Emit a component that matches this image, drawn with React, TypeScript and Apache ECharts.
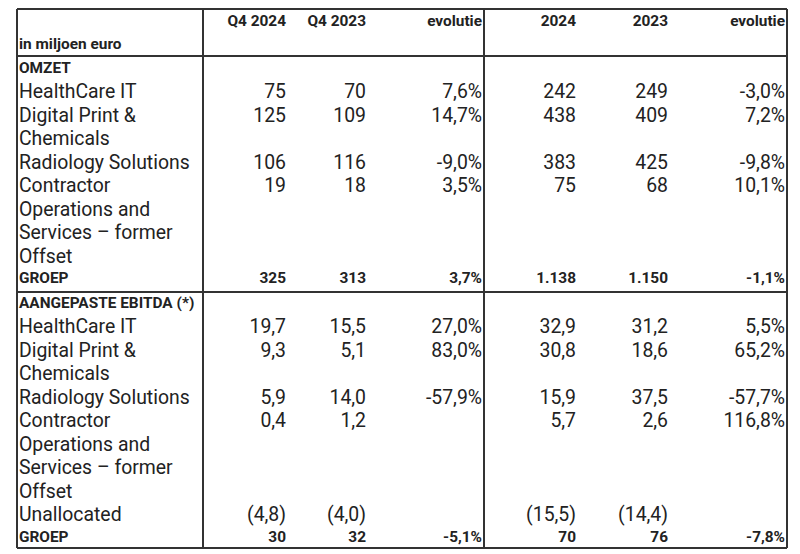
import React, { useEffect, useRef } from "react";
import * as echarts from "echarts";

// ---- data ----
const headers = ["Q4 2024", "Q4 2023", "evolutie", "2024", "2023", "evolutie"];
const unitLabel = "in miljoen euro";

const omzetTitle = "OMZET";
const omzetLabels = [
  ["HealthCare IT"],
  ["Digital Print &", "Chemicals"],
  ["Radiology Solutions"],
  ["Contractor", "Operations and", "Services – former", "Offset"],
];
const omzetQ42024 = ["75", "125", "106", "19"];
const omzetQ42023 = ["70", "109", "116", "18"];
const omzetEvolQ = ["7,6%", "14,7%", "-9,0%", "3,5%"];
const omzet2024 = ["242", "438", "383", "75"];
const omzet2023 = ["249", "409", "425", "68"];
const omzetEvolY = ["-3,0%", "7,2%", "-9,8%", "10,1%"];
const omzetGroep = ["325", "313", "3,7%", "1.138", "1.150", "-1,1%"];

const ebitdaTitle = "AANGEPASTE EBITDA (*)";
const ebitdaLabels = [
  ["HealthCare IT"],
  ["Digital Print &", "Chemicals"],
  ["Radiology Solutions"],
  ["Contractor", "Operations and", "Services – former", "Offset"],
  ["Unallocated"],
];
const ebitdaQ42024 = ["19,7", "9,3", "5,9", "0,4", "(4,8)"];
const ebitdaQ42023 = ["15,5", "5,1", "14,0", "1,2", "(4,0)"];
const ebitdaEvolQ = ["27,0%", "83,0%", "-57,9%", "", ""];
const ebitda2024 = ["32,9", "30,8", "15,9", "5,7", "(15,5)"];
const ebitda2023 = ["31,2", "18,6", "37,5", "2,6", "(14,4)"];
const ebitdaEvolY = ["5,5%", "65,2%", "-57,7%", "116,8%", ""];
const ebitdaGroep = ["30", "32", "-5,1%", "70", "76", "-7,8%"];
const groepLabel = "GROEP";

export default function App() {
  const ref = useRef<HTMLDivElement>(null);
  useEffect(() => {
    if (!ref.current) return;
    const chart = echarts.init(ref.current, null, { renderer: "svg" });

    const L = 17, R = 787, T = 9, B = 548;
    const V1 = 203, V2 = 484;
    const H1 = 56, H2 = 292;
    const colRight = [286, 366, 482, 576, 668, 785];
    const labelX = 19;
    const step = 23.5;
    const font = "Roboto, 'Noto Sans', sans-serif";
    const textColor = "#222";
    const regSize = 19.4;
    const boldSize = 15.4;

    const els: any[] = [];
    const txt = (x: number, y: number, s: string, align: string, bold: boolean) => {
      if (!s) return;
      els.push({
        type: "text",
        x,
        y,
        silent: true,
        style: {
          text: s,
          align,
          verticalAlign: "middle",
          textAlign: align,
          textVerticalAlign: "middle",
          fontFamily: font,
          fontSize: bold ? boldSize : regSize,
          fontWeight: bold ? "bold" : "normal",
          fill: textColor,
        },
      });
    };

    // header
    headers.forEach((h, i) => txt(colRight[i], 21, h, "right", true));
    txt(labelX, 44, unitLabel, "left", true);

    let y = 68;
    const section = (
      title: string,
      labels: string[][],
      cols: string[][],
      groep: string[]
    ) => {
      txt(labelX, y, title, "left", true);
      y += step;
      labels.forEach((lines, r) => {
        cols.forEach((c, ci) => txt(colRight[ci], y, c[r], "right", false));
        lines.forEach((ln, li) => txt(labelX, y + li * step, ln, "left", false));
        y += lines.length * step;
      });
      txt(labelX, y - 1.5, groepLabel, "left", true);
      groep.forEach((g, ci) => txt(colRight[ci], y - 1.5, g, "right", true));
      y += step;
    };

    section(
      omzetTitle,
      omzetLabels,
      [omzetQ42024, omzetQ42023, omzetEvolQ, omzet2024, omzet2023, omzetEvolY],
      omzetGroep
    );
    section(
      ebitdaTitle,
      ebitdaLabels,
      [ebitdaQ42024, ebitdaQ42023, ebitdaEvolQ, ebitda2024, ebitda2023, ebitdaEvolY],
      ebitdaGroep
    );

    const lineStyle = { stroke: "#333", lineWidth: 2 };
    const ln = (x1: number, y1: number, x2: number, y2: number) =>
      els.push({ type: "line", silent: true, shape: { x1, y1, x2, y2 }, style: lineStyle });
    ln(L, T, R, T);
    ln(L, B, R, B);
    ln(L, T, L, B);
    ln(R, T, R, B);
    ln(V1, T, V1, B);
    ln(V2, T, V2, B);
    ln(L, H1, R, H1);
    ln(L, H2, R, H2);

    chart.setOption({
      animation: false,
      backgroundColor: "#fff",
      graphic: { elements: els },
    });
    return () => chart.dispose();
  }, []);
  return (
    <div
      ref={ref}
      style={{ position: "fixed", left: 0, top: 0, width: 800, height: 554 }}
    />
  );
}
